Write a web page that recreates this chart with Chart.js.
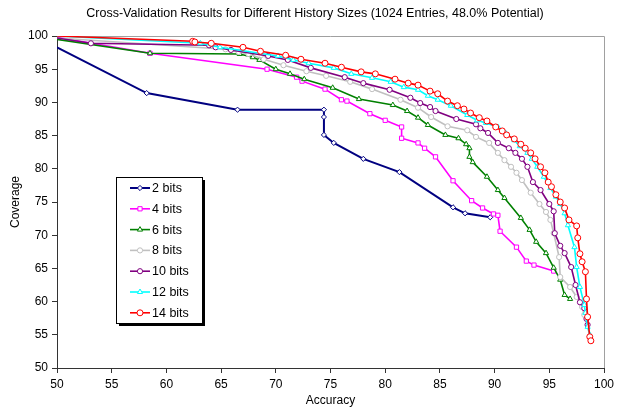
<!DOCTYPE html>
<html>
<head>
<meta charset="utf-8">
<script src="https://cdn.jsdelivr.net/npm/chart.js@4.4.0/dist/chart.umd.min.js"></script>
<style>
html, body { margin: 0; padding: 0; background: #fff; }
#wrap { width: 623px; height: 412px; }
</style>
</head>
<body>
<div id="wrap"><canvas id="cv" width="623" height="412"></canvas></div>
<script>
// values: accuracy (x) / coverage (y)
var chartTitle = 'Cross-Validation Results for Different History Sizes (1024 Entries, 48.0% Potential)';
var seriesNames = ['2 bits', '4 bits', '6 bits', '8 bits', '10 bits', '12 bits', '14 bits'];

var acc2 = [50, 58.2, 66.5, 74.4, 74.4, 74.4, 75.3, 78.0, 81.3, 86.2, 87.3, 89.6];
var cov2 = [98.3, 91.4, 88.9, 88.9, 87.8, 85.1, 83.9, 81.5, 79.5, 74.2, 73.3, 72.7];

var acc4 = [50, 58.5, 69.2, 71.9, 72.4, 74.5, 76.0, 76.5, 78.6, 80.0, 81.5, 81.5, 83.0, 83.6, 84.6, 86.2, 87.9, 88.9, 89.9, 90.3, 90.5, 92.0, 92.9, 93.6, 95.4];
var cov4 = [99.8, 97.4, 95.0, 93.8, 93.2, 92.0, 90.4, 90.2, 88.3, 87.3, 86.3, 84.6, 83.9, 83.1, 81.8, 78.2, 75.2, 74.1, 73.2, 73.0, 70.6, 68.2, 66.1, 65.5, 64.6];

var acc6 = [50, 58.5, 66.7, 67.9, 68.5, 70.0, 71.3, 72.6, 75.2, 77.6, 80.7, 82.0, 83.0, 83.9, 85.5, 86.7, 87.4, 87.7, 87.7, 88.0, 89.3, 90.3, 90.9, 92.4, 93.2, 93.8, 94.7, 95.4, 96.0, 96.4, 96.9];
var cov6 = [99.5, 97.4, 97.3, 96.8, 96.4, 95.0, 94.3, 93.5, 92.2, 90.5, 89.6, 88.7, 87.7, 86.6, 85.1, 84.6, 83.7, 83.1, 81.8, 81.0, 78.8, 76.8, 75.6, 72.6, 70.8, 69.0, 67.3, 65.1, 63.3, 61.0, 60.4];

var acc8 = [50, 65.4, 66.6, 67.5, 68.9, 70.7, 72.8, 74.6, 76.8, 78.8, 81.4, 83.0, 84.2, 85.7, 87.5, 88.3, 89.5, 90.3, 90.9, 91.5, 92.0, 92.5, 93.3, 94.1, 94.7, 95.1, 95.4, 95.9, 96.0, 96.9, 97.5, 98.0, 98.2];
var cov8 = [99.7, 98.0, 97.6, 97.3, 96.5, 95.6, 94.7, 94.0, 93.1, 92.0, 90.4, 89.2, 87.8, 86.4, 85.8, 84.8, 83.9, 82.4, 81.3, 80.3, 79.4, 78.3, 76.4, 74.7, 73.5, 72.3, 70.3, 66.7, 63.7, 62.2, 60.7, 59.2, 58.0];

var acc10 = [50, 53.1, 63.9, 64.5, 65.9, 69.3, 71.1, 73.2, 76.3, 78.0, 80.4, 82.3, 83.2, 84.1, 84.6, 86.5, 88.3, 88.7, 89.4, 90.3, 91.3, 91.9, 92.5, 93.0, 93.5, 94.2, 95.0, 95.4, 95.5, 96.0, 96.4, 97.0, 97.4, 97.8, 98.2, 98.4, 98.5];
var cov10 = [99.7, 98.9, 98.6, 98.3, 97.9, 97.0, 96.4, 95.2, 93.8, 92.9, 91.9, 90.7, 89.9, 89.3, 88.7, 87.5, 86.7, 86.1, 85.4, 83.9, 83.1, 82.4, 81.5, 80.3, 78.0, 76.8, 74.7, 73.6, 70.3, 68.4, 67.3, 65.2, 62.5, 59.9, 59.0, 57.4, 56.5];

var acc12 = [50, 63.1, 64.9, 70.2, 71.6, 73.0, 75.3, 76.9, 78.8, 80.5, 81.7, 83.0, 83.9, 84.8, 86.0, 87.5, 88.4, 89.2, 90.3, 91.0, 91.8, 92.3, 93.0, 93.4, 93.9, 94.5, 95.1, 95.6, 96.0, 96.4, 96.7, 97.3, 97.5, 97.8, 98.2, 98.3, 98.5, 98.7];
var cov12 = [100, 98.9, 98.3, 97.0, 96.4, 95.9, 95.2, 94.3, 93.7, 93.1, 92.3, 91.9, 91.0, 90.4, 89.5, 88.1, 87.3, 86.9, 86.3, 85.4, 84.3, 83.4, 82.4, 81.5, 80.3, 78.8, 77.1, 75.8, 74.7, 73.3, 71.5, 68.2, 65.2, 62.2, 59.5, 58.3, 56.2, 55.0];

var acc14 = [50, 62.4, 62.6, 64.1, 67.0, 68.6, 70.9, 72.3, 74.5, 76.0, 77.8, 79.1, 80.9, 82.1, 83.0, 84.1, 84.8, 85.7, 86.6, 87.2, 87.8, 88.6, 89.3, 90.1, 90.7, 91.1, 91.8, 92.4, 92.8, 93.3, 93.7, 94.2, 94.6, 94.9, 95.2, 95.6, 96.0, 96.4, 96.8, 97.5, 97.6, 97.8, 98.0, 98.3, 98.4, 98.5, 98.7, 98.8];
var cov14 = [100, 99.2, 99.1, 98.9, 98.3, 97.7, 97.1, 96.5, 95.9, 95.3, 94.6, 94.3, 93.5, 92.9, 92.6, 91.7, 91.3, 90.2, 89.5, 89.0, 88.4, 87.7, 87.2, 86.3, 85.7, 85.1, 84.5, 83.7, 83.1, 82.4, 81.5, 80.3, 79.4, 78.0, 77.3, 76.1, 75.0, 74.1, 72.3, 71.4, 69.6, 67.2, 66.0, 64.5, 60.4, 57.7, 54.7, 54.1];

var xTicks = [50, 55, 60, 65, 70, 75, 80, 85, 90, 95, 100];
var yTicks = [50, 55, 60, 65, 70, 75, 80, 85, 90, 95, 100];

var allAcc = [acc2, acc4, acc6, acc8, acc10, acc12, acc14];
var allCov = [cov2, cov4, cov6, cov8, cov10, cov12, cov14];
var colors = ['#000080', '#FF00FF', '#008000', '#C0C0C0', '#800080', '#00FFFF', '#FF0000'];
var markers = ['rectRot', 'rect', 'triangle', 'circle', 'circle', 'triangle', 'circle'];
var radii = [2.6, 3, 3, 2.6, 2.6, 3, 3];

function pairs(xs, ys) {
    var out = [];
    for (let i = 0; i < xs.length; i++) out.push({x: xs[i], y: ys[i]});
    return out;
}

var datasets = [];
for (let i = 0; i < seriesNames.length; i++) {
    datasets.push({
        label: seriesNames[i],
        data: pairs(allAcc[i], allCov[i]),
        showLine: true,
        borderColor: colors[i],
        backgroundColor: '#ffffff',
        borderWidth: i == 0 ? 2 : 1.6,
        pointStyle: markers[i],
        pointRadius: function(c) { return c.dataIndex == 0 ? 0 : radii[i]; },
        pointBorderColor: colors[i],
        pointBackgroundColor: '#ffffff',
        pointBorderWidth: 1,
        tension: 0,
        order: seriesNames.length - i
    });
}

var fontFam = '"Liberation Sans", Arial, sans-serif';

// gray frame on top / right of the plot, plus the title (sits a bit right of centre in the original)
var framePlugin = {
    id: 'frame',
    beforeDatasetsDraw: function(chart) {
        var a = chart.chartArea, ctx = chart.ctx;
        ctx.save();
        ctx.strokeStyle = '#a0a0a0';
        ctx.lineWidth = 1;
        ctx.beginPath();
        ctx.moveTo(a.left, a.top + 0.5);
        ctx.lineTo(a.right + 0.5, a.top + 0.5);
        ctx.lineTo(a.right + 0.5, a.bottom);
        ctx.stroke();
        ctx.fillStyle = '#000';
        ctx.font = '12.5px ' + fontFam;
        ctx.textAlign = 'center';
        ctx.textBaseline = 'middle';
        ctx.fillText(chartTitle, 315, 14);
        ctx.restore();
    }
};

// legend box inside the plot, like the original
var boxLegend = {
    id: 'boxLegend',
    afterDraw: function(chart) {
        var ctx = chart.ctx;
        var bx = 116, by = 177, bw = 86, bh = 146;
        ctx.save();
        ctx.fillStyle = '#000';
        ctx.fillRect(bx + 3, by + 3, bw, bh);
        ctx.fillStyle = '#fff';
        ctx.fillRect(bx, by, bw, bh);
        ctx.strokeStyle = '#000';
        ctx.lineWidth = 1;
        ctx.strokeRect(bx + 0.5, by + 0.5, bw, bh);
        ctx.font = '12.5px ' + fontFam;
        ctx.textBaseline = 'middle';
        for (let i = 0; i < seriesNames.length; i++) {
            var y = 188 + i * 20.8;
            ctx.strokeStyle = colors[i];
            ctx.lineWidth = i == 0 ? 2 : 1.6;
            ctx.beginPath();
            ctx.moveTo(130, y);
            ctx.lineTo(150, y);
            ctx.stroke();
            ctx.fillStyle = '#fff';
            ctx.lineWidth = 1;
            Chart.helpers.drawPoint(ctx, {pointStyle: markers[i], radius: radii[i], borderWidth: 1, rotation: 0}, 140, y);
            ctx.fillStyle = '#000';
            ctx.fillText(seriesNames[i], 152, y + 0.5);
        }
        ctx.restore();
    }
};

new Chart(document.getElementById('cv'), {
    type: 'scatter',
    data: { datasets: datasets },
    options: {
        responsive: false,
        animation: false,
        layout: { padding: { left: 0, right: 19, top: 36, bottom: 0 } },
        plugins: {
            legend: { display: false },
            tooltip: { enabled: false },
            title: { display: false }
        },
        scales: {
            x: {
                type: 'linear',
                min: 50,
                max: 100,
                afterFit: function(s) { s.height = 44; },
                afterBuildTicks: function(s) { s.ticks = xTicks.map(function(v) { return {value: v}; }); },
                ticks: { color: '#000', padding: 4, maxRotation: 0, font: { family: fontFam, size: 12 } },
                grid: { drawOnChartArea: false, drawTicks: true, tickLength: 5, color: '#333' },
                border: { display: true, color: '#333', width: 1 },
                title: { display: true, text: 'Accuracy', color: '#000', font: { family: fontFam, size: 12 }, padding: { top: 0, bottom: 4.5 } }
            },
            y: {
                type: 'linear',
                min: 50,
                max: 100,
                afterFit: function(s) { s.width = 57; },
                afterBuildTicks: function(s) { s.ticks = yTicks.map(function(v) { return {value: v}; }); },
                ticks: { color: '#000', padding: 4, font: { family: fontFam, size: 12 } },
                grid: { drawOnChartArea: false, drawTicks: true, tickLength: 5, color: '#333' },
                border: { display: true, color: '#333', width: 1 },
                title: { display: true, text: 'Coverage', color: '#000', font: { family: fontFam, size: 12 }, padding: { top: 8, bottom: 0 } }
            }
        }
    },
    plugins: [framePlugin, boxLegend]
});
</script>
</body>
</html>
